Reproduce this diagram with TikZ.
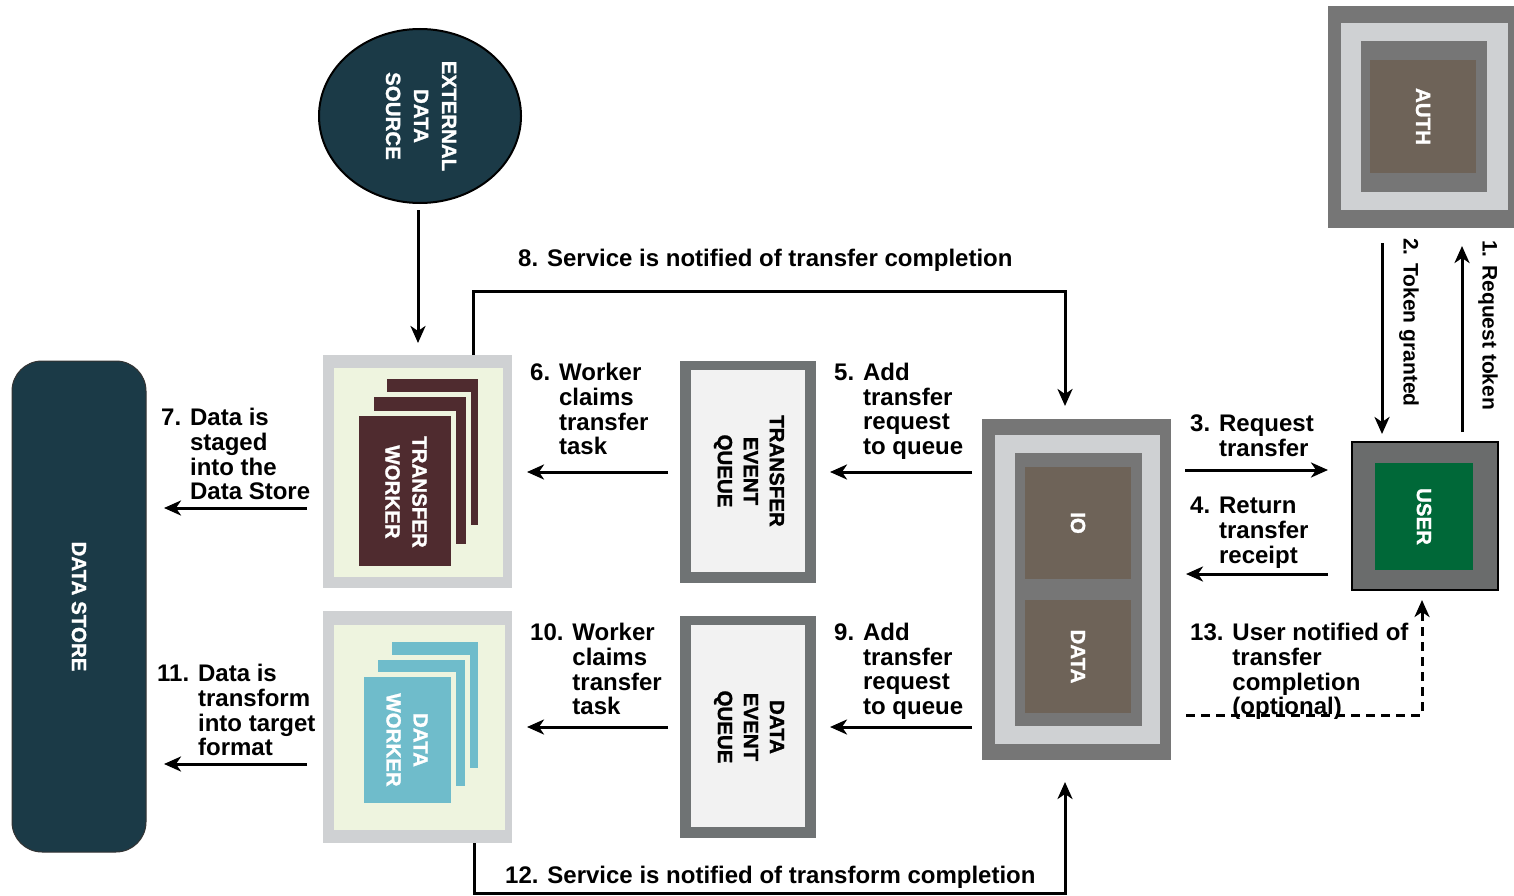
\documentclass[tikz,border=0pt]{standalone}
\usepackage{fontspec}
\setmainfont{Liberation Sans}
\newfontfamily\boxfont[BoldFeatures={FakeBold=1.2}]{Liberation Sans}
\usetikzlibrary{shapes.geometric,arrows.meta}
\definecolor{darkteal}{HTML}{1B3A47}
\definecolor{bandgray}{HTML}{CFD1D3}
\definecolor{palegreen}{HTML}{EEF4DF}
\definecolor{maroon}{HTML}{4F2B2F}
\definecolor{datablue}{HTML}{6FBCCB}
\definecolor{queuegray}{HTML}{6F7374}
\definecolor{queuefill}{HTML}{F2F2F2}
\definecolor{iogray}{HTML}{767676}
\definecolor{brown}{HTML}{6E6358}
\definecolor{usergray}{HTML}{6A6C6C}
\definecolor{usergreen}{HTML}{006838}
\begin{document}
\begin{tikzpicture}[x=1pt,y=-1pt,
  rect/.style={inner sep=0pt, outer sep=0pt, draw=none},
  card/.style={rect, draw=palegreen, line width=5pt},
  arr/.style={line width=3pt, -{Stealth[length=17pt,width=15pt,inset=5pt]}},
  lbl/.style={inner sep=0pt, anchor=base west, font=\fontsize{24}{24.5}\selectfont\bfseries},
  vlbl/.style={inner sep=0pt, anchor=west, rotate=-90, font=\fontsize{21}{24}\selectfont\bfseries},
  boxtxt/.style={inner sep=0pt, text=white, font=\boxfont\fontsize{20.5}{27}\selectfont\bfseries, align=center, rotate=-90},
  qtxt/.style={inner sep=0pt, text=black, font=\boxfont\fontsize{20.5}{26}\selectfont\bfseries, align=center, rotate=-90}]
\useasboundingbox (0,0) rectangle (1514,896);
\clip (0,0) rectangle (1514,896);

% External data source
\node[ellipse, draw=black, line width=2pt, fill=darkteal, minimum width=202pt, minimum height=174pt, inner sep=0pt, outer sep=0pt] (ext) at (420,116) {};
\node[boxtxt, font=\boxfont\fontsize{20.5}{28}\selectfont\bfseries] (extt) at (421,116) {EXTERNAL\\DATA\\SOURCE};

% Data store
\node[rect, fill=darkteal, draw=black!80, line width=1pt, rounded corners=30pt, minimum width=134pt, minimum height=491pt] (store) at (79,606.5) {};
\node[boxtxt] (storet) at (79,606.5) {DATA STORE};

% Transfer worker
\node[rect, fill=bandgray, minimum width=189pt, minimum height=233pt] (tw) at (417.5,471.5) {};
\node[rect, fill=palegreen, minimum width=169pt, minimum height=209pt] (twin) at (418.5,472.5) {};
\node[card, fill=maroon, minimum width=96pt, minimum height=151pt] (twc3) at (432.5,452) {};
\node[card, fill=maroon, minimum width=97pt, minimum height=152pt] (twc2) at (420,470.5) {};
\node[card, fill=maroon, minimum width=97pt, minimum height=155pt] (twc1) at (405,491) {};
\node[boxtxt] (twt) at (406,492) {TRANSFER\\WORKER};

% Data worker
\node[rect, fill=bandgray, minimum width=189pt, minimum height=232pt] (dw) at (417.5,727) {};
\node[rect, fill=palegreen, minimum width=171pt, minimum height=205pt] (dwin) at (419.5,727.5) {};
\node[card, fill=datablue, minimum width=91pt, minimum height=131pt] (dwc3) at (435,705) {};
\node[card, fill=datablue, minimum width=92pt, minimum height=131pt] (dwc2) at (421.5,723) {};
\node[card, fill=datablue, minimum width=92pt, minimum height=131pt] (dwc1) at (407.5,740) {};
\node[boxtxt] (dwt) at (407,740) {DATA\\WORKER};

% Transfer event queue
\node[rect, fill=queuegray, minimum width=136pt, minimum height=222pt] (teq) at (748,472) {};
\node[rect, fill=queuefill, minimum width=114pt, minimum height=202pt] (teqin) at (748,471) {};
\node[qtxt] (teqt) at (749,471) {TRANSFER\\EVENT\\QUEUE};

% Data event queue
\node[rect, fill=queuegray, minimum width=136pt, minimum height=222pt] (deq) at (748,727) {};
\node[rect, fill=queuefill, minimum width=114pt, minimum height=202pt] (deqin) at (748,726) {};
\node[qtxt] (deqt) at (749,727) {DATA\\EVENT\\QUEUE};

% IO / DATA service
\node[rect, fill=iogray, minimum width=189pt, minimum height=341pt] (io) at (1076.5,589.5) {};
\node[rect, fill=bandgray, minimum width=165pt, minimum height=309pt] (ioband) at (1077.5,589.5) {};
\node[rect, fill=iogray, minimum width=127pt, minimum height=273pt] (ioin) at (1078.5,589.5) {};
\node[rect, fill=brown, minimum width=106pt, minimum height=112pt] (iobox) at (1078,523) {};
\node[rect, fill=brown, minimum width=106pt, minimum height=113pt] (databox) at (1078,656.5) {};
\node[boxtxt] (iot) at (iobox) {IO};
\node[boxtxt] (datat) at (databox) {DATA};

% AUTH
\node[rect, fill=iogray, minimum width=188pt, minimum height=222pt] (auth) at (1422,117) {};
\node[rect, fill=bandgray, minimum width=167pt, minimum height=187pt] (authband) at (1424.5,116.5) {};
\node[rect, fill=iogray, minimum width=126pt, minimum height=151pt] (authin) at (1424,116.5) {};
\node[rect, fill=brown, minimum width=106pt, minimum height=113pt] (authbox) at (1423,116.5) {};
\node[boxtxt] (autht) at (authbox) {AUTH};

% USER
\node[rect, fill=usergray, draw=black, line width=2pt, minimum width=146pt, minimum height=148pt] (user) at (1425,516) {};
\node[rect, fill=usergreen, minimum width=98pt, minimum height=107pt] (userbox) at (1424,516.5) {};
\node[boxtxt] (usert) at (userbox) {USER};

% Connectors
\draw[arr, shorten <=7pt, shorten >=12pt] ([xshift=-2pt]ext.south) -- ([xshift=-2pt]ext.south |- tw.north);
\draw[arr, shorten >=13pt] ([xshift=55.5pt]tw.north) -- ++(0,-64) -| ([xshift=-11.5pt]io.north);
\draw[arr, shorten >=22pt] ([xshift=56.5pt]dw.south) -- ++(0,50) -| ([xshift=-11.5pt]io.south);
\draw[arr, shorten <=10pt, shorten >=14pt] (io.west |- teq.east) -- (teq.east);
\draw[arr, shorten <=12pt, shorten >=15pt] (teq.west) -- (tw.east |- teq.west);
\draw[arr, shorten <=10pt, shorten >=14pt] (io.west |- deq.east) -- (deq.east);
\draw[arr, shorten <=12pt, shorten >=15pt] (deq.west) -- (dw.east |- deq.west);
\draw[arr, shorten <=16pt, shorten >=18pt] ([yshift=-36.5pt]tw.west) -- ([yshift=-36.5pt]store.east |- tw.west);
\draw[arr, shorten <=16pt, shorten >=18pt] ([yshift=-37pt]dw.west) -- ([yshift=-37pt]store.east |- dw.west);
\draw[arr, shorten <=14pt, shorten >=24pt] ([yshift=46pt]io.east |- user.west) -- ([yshift=46pt]user.west);
\draw[arr, shorten <=24pt, shorten >=15pt] ([yshift=-58pt]user.west) -- ([yshift=-58pt]io.east |- user.west);
\draw[arr, shorten <=10pt, shorten >=18pt] ([xshift=37pt]user.north) -- ([xshift=37pt]user.north |- auth.south);
\draw[arr, shorten <=15pt, shorten >=8pt] ([xshift=-43pt]user.north |- auth.south) -- ([xshift=-43pt]user.north);
\draw[arr, dash pattern=on 9pt off 6pt, shorten <=15pt, shorten >=10pt] ([yshift=-125.5pt]io.east) -| ([xshift=-3pt]user.south);

% Labels
\node[lbl] (l8) at (518,266.6) {8. Service is notified of transfer completion};
\node[lbl] (l12) at (505,883.6) {12. Service is notified of transform completion};
\node[lbl] (l6) at (530,380.6) {\begin{tabular}[t]{@{}l@{\space}l@{}}6.&Worker\\&claims\\&transfer\\&task\end{tabular}};
\node[lbl] (l5) at (834,380.6) {\begin{tabular}[t]{@{}l@{\space}l@{}}5.&Add\\&transfer\\&request\\&to queue\end{tabular}};
\node[lbl] (l7) at (161,425.6) {\begin{tabular}[t]{@{}l@{\space}l@{}}7.&Data is\\&staged\\&into the\\&Data Store\end{tabular}};
\node[lbl] (l3) at (1190,431.6) {\begin{tabular}[t]{@{}l@{\space}l@{}}3.&Request\\&transfer\end{tabular}};
\node[lbl] (l4) at (1190,513.6) {\begin{tabular}[t]{@{}l@{\space}l@{}}4.&Return\\&transfer\\&receipt\end{tabular}};
\node[lbl] (l13) at (1190,640.6) {\begin{tabular}[t]{@{}l@{\space}l@{}}13.&User notified of\\&transfer\\&completion\\&(optional)\end{tabular}};
\node[lbl] (l10) at (530,640.6) {\begin{tabular}[t]{@{}l@{\space}l@{}}10.&Worker\\&claims\\&transfer\\&task\end{tabular}};
\node[lbl] (l9) at (834,640.6) {\begin{tabular}[t]{@{}l@{\space}l@{}}9.&Add\\&transfer\\&request\\&to queue\end{tabular}};
\node[lbl] (l11) at (157,681.6) {\begin{tabular}[t]{@{}l@{\space}l@{}}11.&Data is\\&transform\\&into target\\&format\end{tabular}};
\node[vlbl] (l1) at (1488,240) {1. Request token};
\node[vlbl] (l2) at (1409,238) {2. Token granted};
\end{tikzpicture}
\end{document}
